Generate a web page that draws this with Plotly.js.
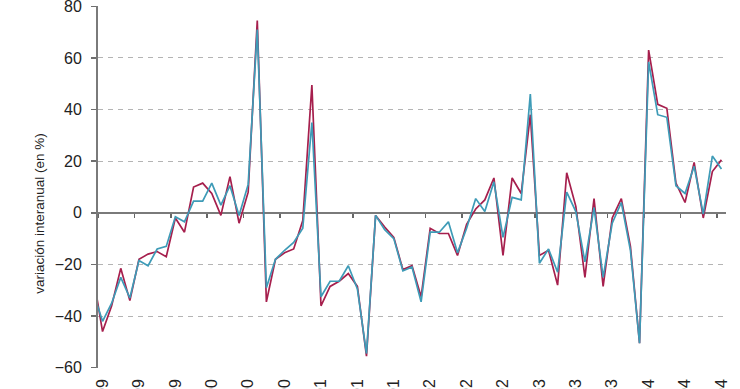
<!DOCTYPE html>
<html>
<head>
<meta charset="utf-8">
<script src="https://cdn.plot.ly/plotly-3.0.1.min.js"></script>
<style>
  html, body { margin: 0; padding: 0; background: #ffffff; }
  #chart { width: 740px; height: 389px; }
</style>
</head>
<body>
<div id="chart"></div>
<script>
// Monthly categories (first one only partly visible at the left edge)
const months = [
  'dic-98',
  'ene-99','feb-99','mar-99','abr-99','may-99','jun-99','jul-99','ago-99','sep-99','oct-99','nov-99','dic-99',
  'ene-00','feb-00','mar-00','abr-00','may-00','jun-00','jul-00','ago-00','sep-00','oct-00','nov-00','dic-00',
  'ene-01','feb-01','mar-01','abr-01','may-01','jun-01','jul-01','ago-01','sep-01','oct-01','nov-01','dic-01',
  'ene-02','feb-02','mar-02','abr-02','may-02','jun-02','jul-02','ago-02','sep-02','oct-02','nov-02','dic-02',
  'ene-03','feb-03','mar-03','abr-03','may-03','jun-03','jul-03','ago-03','sep-03','oct-03','nov-03','dic-03',
  'ene-04','feb-04','mar-04','abr-04','may-04','jun-04','jul-04','ago-04','sep-04'
];

// Series values (variación interanual, %)
const serieRoja = [
  -25,
  -46, -36, -21.5, -34, -18, -16, -15, -17, -2, -7.5, 10, 11.5,
  7.5, -1, 14, -4, 8, 74.5, -34.5, -18, -15.5, -14, -3, 49.5,
  -36, -28.5, -26.5, -23.5, -28.5, -55.5, -1, -5.5, -9.5, -22, -20.5, -32.5,
  -6, -8, -8, -16.5, -4.5, 1.5, 5, 13.5, -16.5, 13.5, 7.5, 38,
  -16.5, -14.5, -28, 15.5, 2.5, -25, 5.5, -28.5, -2, 5.5, -13, -50.5,
  63, 42, 40.5, 11.5, 4, 19.5, -2, 16, 20.5
];
const serieAzul = [
  -31,
  -42, -35, -25, -33, -18.5, -20.5, -14, -13, -1.5, -3.5, 4.5, 4.5,
  11.5, 3, 10.5, -1, 11, 71, -29, -18, -14.5, -11.5, -6, 35,
  -32.5, -26.5, -26.5, -20.5, -29.5, -54.5, -1, -6.5, -10, -22.5, -21, -34.5,
  -7.5, -7.5, -3.5, -15.5, -6, 5.5, 0.5, 12, -9.5, 6, 5, 46,
  -19.5, -14, -23, 8, 0.5, -19, 2, -25, -4, 4, -14.5, -50.5,
  58.5, 38, 37, 10.5, 7.5, 18, -0.5, 22, 17
];

const yTicks = [-60, -40, -20, 0, 20, 40, 60, 80];

const idx = months.map((m, i) => i);
// labelled categories: every 4th month starting at ene-99
const labelIdx = idx.filter(i => i >= 1 && (i - 1) % 4 === 0);
const labelText = labelIdx.map(i => months[i]);
// tick marks sit on category boundaries before each labelled month
const boundaryTicks = labelIdx.map(i => i - 0.5);

const FONT = 'Arial, "Liberation Sans", sans-serif';

const traces = [
  {
    x: idx, y: serieRoja, type: 'scatter', mode: 'lines',
    xaxis: 'x', yaxis: 'y',
    line: { color: '#a61f4d', width: 1.7 },
    hoverinfo: 'skip'
  },
  {
    x: idx, y: serieAzul, type: 'scatter', mode: 'lines',
    xaxis: 'x2', yaxis: 'y',
    line: { color: '#3e9bb7', width: 1.7 },
    hoverinfo: 'skip'
  }
];

const layout = {
  width: 740, height: 389,
  margin: { l: 98, r: 14, t: 6, b: 21, pad: 0 },
  paper_bgcolor: '#ffffff',
  plot_bgcolor: '#ffffff',
  showlegend: false,
  font: { family: FONT, size: 16, color: '#222222' },
  xaxis: {
    range: [0.5, idx.length - 0.5],
    tickmode: 'array', tickvals: labelIdx, ticktext: labelText,
    tickangle: -90, ticks: '', showline: false, showgrid: false, zeroline: false,
    automargin: false,
    ticklabelstandoff: 7,
    ticklabeloverflow: 'allow',
    tickfont: { family: FONT, size: 16, color: '#222222' }
  },
  xaxis2: {
    overlaying: 'x', matches: 'x', anchor: 'free', position: 60.1 / 140.2,
    tickmode: 'array', tickvals: boundaryTicks,
    ticks: 'outside', ticklen: 4, tickwidth: 1.5, tickcolor: '#666666',
    showticklabels: false, showgrid: false, zeroline: false,
    showline: true, linecolor: '#7a7a7a', linewidth: 2,
    layer: 'below traces'
  },
  yaxis: {
    range: [-60.1, 80.1],
    tickmode: 'array', tickvals: yTicks,
    ticks: 'outside', ticklen: 5, tickwidth: 1.5, tickcolor: '#6f6f6f',
    showline: true, linecolor: '#7a7a7a', linewidth: 2,
    showgrid: true, gridcolor: '#b4b4b4', gridwidth: 1, griddash: '5px,5px',
    zeroline: false,
    ticklabelstandoff: 6,
    ticklabeloverflow: 'allow',
    automargin: false,
    tickfont: { family: FONT, size: 16, color: '#222222' }
  },
  annotations: [
    {
      text: 'variación interanual (en %)',
      xref: 'paper', yref: 'paper',
      x: 0, xshift: -58, y: 0.426,
      xanchor: 'center', yanchor: 'middle',
      textangle: -90, showarrow: false,
      font: { family: FONT, size: 13.5, color: '#222222' }
    }
  ]
};

Plotly.newPlot('chart', traces, layout, { displayModeBar: false, staticPlot: true });
</script>
</body>
</html>
